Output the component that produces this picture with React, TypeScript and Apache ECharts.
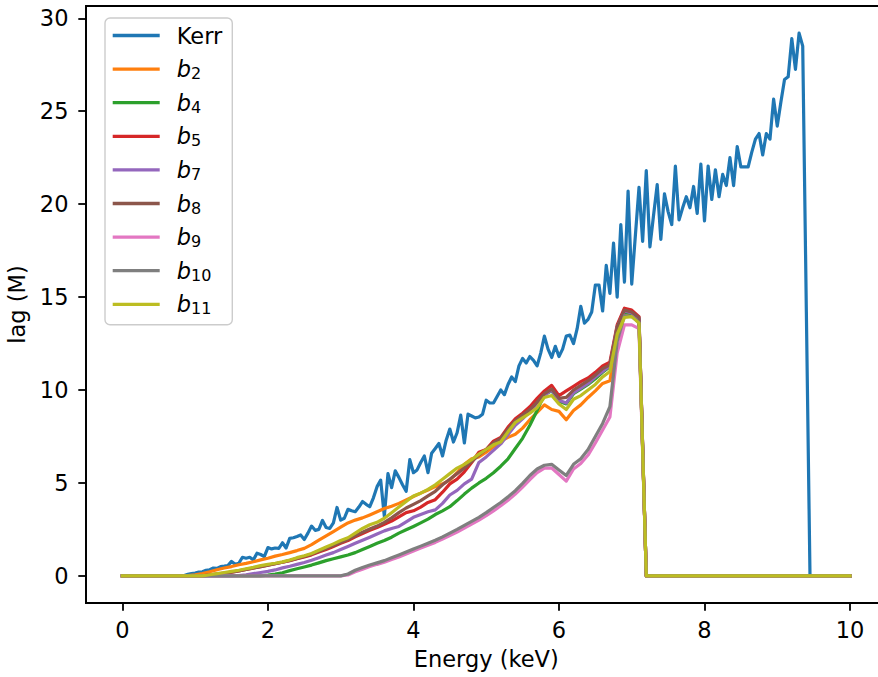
import React, { useEffect, useRef } from "react";
import * as echarts from "echarts";

// Energy grids (keV)
const KERR_STEP = 0.05; // Kerr sampled every 0.05 keV from 0 to 10
const B_STEP = 0.1; // b_n curves sampled every 0.1 keV from 0 to 10

// lag (M) values
const kerr = [
  0, 0, 0, 0, 0, 0, 0, 0, 0, 0, 0, 0, 0, 0, 0, 0, 0, 0.02, 0.08, 0.12,
  0.15, 0.2, 0.22, 0.3, 0.33, 0.42, 0.4, 0.5, 0.52, 0.55, 0.78, 0.62, 0.68, 1.0, 0.95, 1.0, 0.86, 1.22, 1.15, 1.04,
  1.52, 1.45, 1.5, 1.48, 1.78, 1.5, 2.02, 2.05, 2.12, 2.2, 1.96, 2.3, 2.68, 2.45, 2.5, 2.98, 2.6, 2.55, 2.85, 3.68,
  3.0, 3.1, 3.58, 3.5, 3.45, 3.7, 4.0, 3.85, 3.72, 4.2, 4.8, 5.15, 3.2, 5.5, 4.75, 5.65, 5.3, 4.9, 4.55, 6.25,
  5.55, 5.7, 6.1, 6.45, 5.55, 6.6, 6.85, 7.12, 6.45, 7.3, 7.9, 7.2, 7.7, 8.65, 7.15, 8.7, 8.6, 8.5, 8.55, 8.7,
  9.45, 9.3, 9.3, 9.65, 10.0, 9.75, 10.3, 10.7, 10.45, 11.3, 11.7, 11.45, 11.8, 11.6, 11.3, 12.0, 12.9, 12.2, 11.75, 12.35,
  11.8, 12.2, 12.9, 12.95, 12.5, 13.3, 14.5, 13.6, 13.8, 14.2, 15.65, 15.65, 14.25, 16.7, 15.2, 17.9, 15.0, 18.9, 15.8, 20.7,
  15.7, 18.3, 20.9, 18.0, 21.8, 17.7, 19.4, 21.05, 18.1, 20.55, 19.6, 18.9, 22.05, 19.15, 19.8, 20.4, 19.8, 20.95, 19.5, 22.15,
  19.1, 22.05, 20.25, 21.85, 20.4, 21.6, 21.0, 22.5, 21.0, 23.1, 22.0, 22.0, 22.0, 22.8, 23.5, 23.8, 22.65, 23.8, 23.5, 25.65,
  24.2, 25.5, 26.7, 26.85, 28.9, 27.25, 29.2, 28.5, 14.2, 0, 0, 0, 0, 0, 0, 0, 0, 0, 0, 0,
  0,
];

const b2 = [
  0, 0, 0, 0, 0, 0, 0, 0, 0, 0.02,
  0.05, 0.12, 0.22, 0.33, 0.42, 0.5, 0.6, 0.67, 0.76, 0.86,
  0.95, 1.06, 1.15, 1.25, 1.36, 1.48, 1.68, 1.92, 2.15, 2.38,
  2.62, 2.85, 3.0, 3.12, 3.28, 3.45, 3.62, 3.75, 3.9, 4.08,
  4.27, 4.45, 4.62, 4.8, 4.95, 5.15, 5.55, 6.0, 6.3, 6.4,
  6.65, 6.95, 7.25, 7.45, 7.62, 7.95, 8.4, 8.8, 9.2, 8.95,
  8.85, 8.4, 8.9, 9.2, 9.6, 9.95, 10.35, 10.5, 12.9, 14.05,
  14.0, 13.75, 0, 0, 0, 0, 0, 0, 0, 0,
  0, 0, 0, 0, 0, 0, 0, 0, 0, 0,
  0, 0, 0, 0, 0, 0, 0, 0, 0, 0,
  0,
];

const b4 = [
  0, 0, 0, 0, 0, 0, 0, 0, 0, 0,
  0, 0, 0, 0, 0, 0, 0, 0, 0, 0,
  0.04, 0.1, 0.17, 0.28, 0.38, 0.48, 0.58, 0.7, 0.82, 0.92,
  1.02, 1.12, 1.25, 1.42, 1.58, 1.75, 1.9, 2.08, 2.3, 2.48,
  2.66, 2.85, 3.05, 3.3, 3.5, 3.72, 4.05, 4.4, 4.72, 5.0,
  5.25, 5.55, 5.9, 6.3, 6.85, 7.4, 8.1, 8.9, 9.75, 9.95,
  9.4, 9.25, 9.8, 10.05, 10.3, 10.6, 10.95, 11.25, 13.3, 14.2,
  14.1, 13.8, 0, 0, 0, 0, 0, 0, 0, 0,
  0, 0, 0, 0, 0, 0, 0, 0, 0, 0,
  0, 0, 0, 0, 0, 0, 0, 0, 0, 0,
  0,
];

const b5 = [
  0, 0, 0, 0, 0, 0, 0, 0, 0, 0,
  0, 0, 0.05, 0.1, 0.15, 0.2, 0.27, 0.35, 0.42, 0.5,
  0.58, 0.65, 0.73, 0.82, 0.92, 1.02, 1.13, 1.28, 1.42, 1.58,
  1.75, 1.9, 2.1, 2.28, 2.45, 2.6, 2.78, 2.95, 3.18, 3.4,
  3.5, 3.7, 3.95, 4.1, 4.5, 4.95, 5.2, 5.6, 6.1, 6.65,
  6.8, 7.25, 7.45, 8.0, 8.45, 8.75, 9.1, 9.55, 9.95, 10.25,
  9.7, 9.95, 10.2, 10.45, 10.65, 10.95, 11.3, 11.5, 13.5, 14.4,
  14.3, 13.95, 0, 0, 0, 0, 0, 0, 0, 0,
  0, 0, 0, 0, 0, 0, 0, 0, 0, 0,
  0, 0, 0, 0, 0, 0, 0, 0, 0, 0,
  0,
];

const b7 = [
  0, 0, 0, 0, 0, 0, 0, 0, 0, 0,
  0, 0, 0, 0, 0, 0, 0.02, 0.05, 0.12, 0.18,
  0.24, 0.32, 0.43, 0.52, 0.62, 0.72, 0.84, 0.98, 1.12, 1.25,
  1.42, 1.58, 1.75, 1.92, 2.08, 2.25, 2.42, 2.55, 2.66, 2.9,
  3.15, 3.3, 3.45, 3.55, 3.9, 4.35, 4.6, 4.95, 5.2, 6.1,
  6.4, 6.75, 7.1, 7.6, 8.1, 8.45, 8.85, 9.3, 9.7, 10.0,
  9.45, 9.3, 9.85, 10.1, 10.35, 10.7, 11.0, 11.3, 13.4, 14.25,
  14.15, 13.85, 0, 0, 0, 0, 0, 0, 0, 0,
  0, 0, 0, 0, 0, 0, 0, 0, 0, 0,
  0, 0, 0, 0, 0, 0, 0, 0, 0, 0,
  0,
];

const b8 = [
  0, 0, 0, 0, 0, 0, 0, 0, 0, 0,
  0, 0, 0.04, 0.09, 0.14, 0.2, 0.26, 0.34, 0.42, 0.5,
  0.58, 0.65, 0.73, 0.83, 0.94, 1.05, 1.17, 1.32, 1.47, 1.63,
  1.8, 1.96, 2.15, 2.35, 2.52, 2.68, 2.88, 3.12, 3.4, 3.65,
  3.85, 4.05, 4.3, 4.55, 4.9, 5.2, 5.5, 5.8, 6.15, 6.5,
  6.8, 7.15, 7.4, 7.9, 8.35, 8.65, 8.95, 9.35, 9.8, 10.05,
  9.55, 9.6, 10.0, 10.25, 10.5, 10.8, 11.15, 11.35, 13.4, 14.3,
  14.2, 13.9, 0, 0, 0, 0, 0, 0, 0, 0,
  0, 0, 0, 0, 0, 0, 0, 0, 0, 0,
  0, 0, 0, 0, 0, 0, 0, 0, 0, 0,
  0,
];

const b9 = [
  0, 0, 0, 0, 0, 0, 0, 0, 0, 0,
  0, 0, 0, 0, 0, 0, 0, 0, 0, 0,
  0, 0, 0, 0, 0, 0, 0, 0, 0, 0,
  0, 0.05, 0.22, 0.36, 0.5, 0.62, 0.73, 0.88, 1.02, 1.18,
  1.34, 1.5, 1.65, 1.8, 1.98, 2.17, 2.36, 2.57, 2.78, 3.0,
  3.24, 3.5, 3.77, 4.07, 4.4, 4.78, 5.18, 5.55, 5.8, 5.8,
  5.45, 5.1, 5.75, 6.05, 6.5, 7.15, 7.85, 8.55, 12.0, 13.5,
  13.5, 13.3, 0, 0, 0, 0, 0, 0, 0, 0,
  0, 0, 0, 0, 0, 0, 0, 0, 0, 0,
  0, 0, 0, 0, 0, 0, 0, 0, 0, 0,
  0,
];

const b10 = [
  0, 0, 0, 0, 0, 0, 0, 0, 0, 0,
  0, 0, 0, 0, 0, 0, 0, 0, 0, 0,
  0, 0, 0, 0, 0, 0, 0, 0, 0, 0,
  0, 0.1, 0.3, 0.45, 0.58, 0.7, 0.82, 0.97, 1.12, 1.28,
  1.45, 1.6, 1.76, 1.92, 2.1, 2.3, 2.5, 2.72, 2.93, 3.15,
  3.4, 3.68, 3.95, 4.25, 4.58, 4.98, 5.4, 5.75, 5.95, 6.0,
  5.7, 5.4, 6.0, 6.3, 6.8, 7.5, 8.2, 9.1, 12.6, 14.0,
  13.95, 13.65, 0, 0, 0, 0, 0, 0, 0, 0,
  0, 0, 0, 0, 0, 0, 0, 0, 0, 0,
  0, 0, 0, 0, 0, 0, 0, 0, 0, 0,
  0,
];

const b11 = [
  0, 0, 0, 0, 0, 0, 0, 0, 0, 0,
  0, 0, 0.06, 0.12, 0.18, 0.24, 0.3, 0.38, 0.46, 0.55,
  0.62, 0.68, 0.75, 0.85, 0.98, 1.08, 1.2, 1.38, 1.55, 1.72,
  1.9, 2.05, 2.3, 2.55, 2.75, 2.88, 3.1, 3.4, 3.7, 4.0,
  4.3, 4.45, 4.65, 4.9, 5.2, 5.5, 5.8, 6.0, 6.25, 6.55,
  6.8, 7.05, 7.2, 7.75, 8.25, 8.5, 8.75, 9.05, 9.6, 9.7,
  9.25, 8.95, 9.5, 9.7, 10.0, 10.3, 10.7, 11.0, 13.0, 13.9,
  13.95, 13.6, 0, 0, 0, 0, 0, 0, 0, 0,
  0, 0, 0, 0, 0, 0, 0, 0, 0, 0,
  0, 0, 0, 0, 0, 0, 0, 0, 0, 0,
  0,
];

const SERIES_NAMES = ["Kerr", "b2", "b4", "b5", "b7", "b8", "b9", "b10", "b11"];
const SERIES_VALUES = [kerr, b2, b4, b5, b7, b8, b9, b10, b11];
const SERIES_STEPS = [KERR_STEP, B_STEP, B_STEP, B_STEP, B_STEP, B_STEP, B_STEP, B_STEP, B_STEP];
const COLORS = ["#1f77b4", "#ff7f0e", "#2ca02c", "#d62728", "#9467bd", "#8c564b", "#e377c2", "#7f7f7f", "#bcbd22"];

const X_TICKS = [0, 2, 4, 6, 8, 10];
const Y_TICKS = [0, 5, 10, 15, 20, 25, 30];

const FONT = "DejaVu Sans";
const FS = 22.5;

export default function App() {
  const ref = useRef<HTMLDivElement>(null);

  useEffect(() => {
    if (!ref.current) return;
    const chart = echarts.init(ref.current, null, { renderer: "svg" });

    const series = SERIES_NAMES.map((name, k) => ({
      name,
      type: "line",
      data: SERIES_VALUES[k].map((v, i) => [Number((i * SERIES_STEPS[k]).toFixed(2)), v]),
      showSymbol: false,
      symbol: "none",
      lineStyle: { color: COLORS[k], width: 3.2, cap: "square", join: "round" },
      itemStyle: { color: COLORS[k] },
      emphasis: { disabled: true },
      silent: true,
      z: 2 + k,
    }));

    chart.setOption({
      animation: false,
      backgroundColor: "#ffffff",
      grid: {
        left: 86,
        top: 6,
        right: -8.4,
        bottom: 74,
        containLabel: false,
        outerBoundsMode: "none",
        show: true,
        borderColor: "#000",
        borderWidth: 1.8,
        backgroundColor: "transparent",
      },
      legend: {
        data: SERIES_NAMES,
        orient: "vertical",
        left: 105,
        top: 18,
        padding: [5, 10, 8, 7.7],
        itemWidth: 47,
        itemHeight: 3.3,
        itemGap: 8.6,
        icon: "rect",
        selectedMode: false,
        backgroundColor: "rgba(255,255,255,0.8)",
        borderColor: "#cccccc",
        borderWidth: 1.4,
        borderRadius: 5,
        formatter: (name: string) =>
          name === "Kerr" ? "{n|Kerr}" : `{b|b}{s|${name.slice(1)}}`,
        textStyle: {
          fontFamily: FONT,
          fontSize: FS,
          color: "#000",
          lineHeight: 25,
          padding: [0, 0, 0, 12],
          rich: {
            n: { fontFamily: FONT, fontSize: FS, color: "#000", lineHeight: 25 },
            b: { fontFamily: FONT, fontSize: FS, fontStyle: "italic", color: "#000", lineHeight: 25 },
            s: { fontFamily: FONT, fontSize: 16, color: "#000", lineHeight: 13, verticalAlign: "bottom" },
          },
        },
      },
      xAxis: {
        type: "value",
        min: -0.5,
        max: 10.5,
        name: "Energy (keV)",
        nameLocation: "middle",
        nameGap: 44,
        nameTextStyle: { fontFamily: FONT, fontSize: FS, color: "#000" },
        splitLine: { show: false },
        axisLine: { show: true, onZero: false, lineStyle: { color: "#000", width: 1.8 } },
        axisTick: { show: true, length: 7.7, lineStyle: { color: "#000", width: 1.8 }, customValues: X_TICKS },
        axisLabel: { fontFamily: FONT, fontSize: FS, color: "#000", margin: 15, customValues: X_TICKS },
      },
      yAxis: {
        type: "value",
        min: -1.46,
        max: 30.66,
        name: "lag (M)",
        nameLocation: "middle",
        nameGap: 54,
        nameTextStyle: { fontFamily: FONT, fontSize: FS, color: "#000" },
        splitLine: { show: false },
        axisLine: { show: true, onZero: false, lineStyle: { color: "#000", width: 1.8 } },
        axisTick: { show: true, length: 7.7, lineStyle: { color: "#000", width: 1.8 }, customValues: Y_TICKS },
        axisLabel: { fontFamily: FONT, fontSize: FS, color: "#000", margin: 17.5, customValues: Y_TICKS },
      },
      series,
    });

    return () => chart.dispose();
  }, []);

  return (
    <div
      ref={ref}
      style={{ position: "fixed", left: 0, top: 0, width: 878, height: 677, background: "#fff" }}
    />
  );
}
